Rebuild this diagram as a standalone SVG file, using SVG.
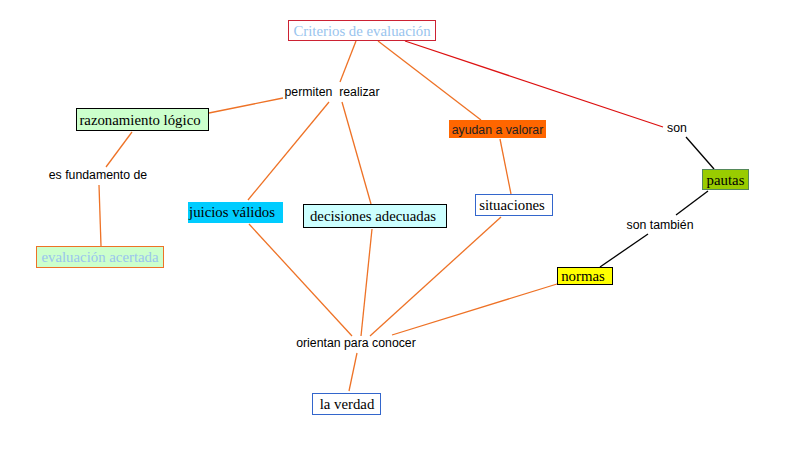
<svg xmlns="http://www.w3.org/2000/svg" width="790" height="455" viewBox="0 0 790 455">
<style>
.s{font-family:"Liberation Serif","Times New Roman",serif;font-size:14.8px;fill:#000}
.a{font-family:"Liberation Sans",Arial,sans-serif;font-size:12.3px;fill:#000}
.o{stroke:#ee7226;stroke-width:1.3;fill:none}
.r{stroke:#dd1111;stroke-width:1.3;fill:none}
.k{stroke:#000;stroke-width:1.3;fill:none}
</style>
<rect width="790" height="455" fill="#fff"/>
<g id="connectors">
<line class="o" x1="356" y1="41" x2="340" y2="82"/>
<line class="o" x1="378" y1="41" x2="481" y2="120"/>
<line class="r" x1="405" y1="41" x2="663" y2="127"/>
<line class="o" x1="283" y1="98" x2="209" y2="113"/>
<line class="o" x1="329" y1="102" x2="248" y2="200"/>
<line class="o" x1="342" y1="102" x2="371" y2="204"/>
<line class="o" x1="132" y1="132" x2="106" y2="167"/>
<line class="o" x1="99" y1="185" x2="101" y2="246"/>
<line class="o" x1="500" y1="139" x2="511" y2="194"/>
<line class="k" x1="686" y1="137" x2="714" y2="169"/>
<line class="k" x1="708" y1="191" x2="676" y2="215"/>
<line class="k" x1="648" y1="234" x2="600" y2="267"/>
<line class="o" x1="249" y1="224" x2="352" y2="336"/>
<line class="o" x1="372" y1="229" x2="361" y2="336"/>
<line class="o" x1="501" y1="217" x2="370" y2="336"/>
<line class="o" x1="557" y1="284" x2="392" y2="335"/>
<line class="o" x1="357" y1="353" x2="349" y2="391"/>
</g>
<g id="criterios">
<rect x="288.5" y="20.5" width="147" height="20" fill="#fff" stroke="#cc2233"/>
<text class="s" x="362" y="35.5" text-anchor="middle" style="fill:#99c4ee">Criterios de evaluación</text>
</g>
<g id="permiten">
<text class="a" x="332" y="96" text-anchor="middle" xml:space="preserve">permiten  realizar</text>
</g>
<g id="razonamiento">
<rect x="76.5" y="108.5" width="132" height="22" fill="#ccffcc" stroke="#000"/>
<text class="s" x="140" y="124.5" text-anchor="middle">razonamiento lógico</text>
</g>
<g id="fundamento">
<text class="a" x="98" y="179" text-anchor="middle">es fundamento de</text>
</g>
<g id="evaluacion">
<rect x="36.5" y="246.5" width="127" height="21" fill="#ccffcc" stroke="#ee7226"/>
<text class="s" x="100" y="262" text-anchor="middle" style="fill:#99c4ee">evaluación acertada</text>
</g>
<g id="juicios">
<rect x="188" y="202" width="95" height="21" fill="#00ccff"/>
<text class="s" x="232" y="217" text-anchor="middle">juicios válidos</text>
</g>
<g id="decisiones">
<rect x="303.5" y="204.5" width="143" height="23" fill="#ccffff" stroke="#000"/>
<text class="s" x="373" y="220.5" text-anchor="middle">decisiones adecuadas</text>
</g>
<g id="ayudan">
<rect x="449" y="120" width="97" height="18" fill="#ff6600"/>
<text class="a" x="497.5" y="133.5" text-anchor="middle" style="fill:#222">ayudan a valorar</text>
</g>
<g id="situaciones">
<rect x="475.5" y="194.5" width="77" height="21" fill="#fff" stroke="#3366cc"/>
<text class="s" x="512" y="210" text-anchor="middle">situaciones</text>
</g>
<g id="son">
<text class="a" x="677" y="132" text-anchor="middle">son</text>
</g>
<g id="pautas">
<rect x="702.5" y="169.5" width="46" height="20" fill="#99cc00" stroke="#55885a"/>
<text class="s" x="725.5" y="184.5" text-anchor="middle">pautas</text>
</g>
<g id="tambien">
<text class="a" x="660" y="229" text-anchor="middle">son también</text>
</g>
<g id="normas">
<rect x="557.5" y="267.5" width="55" height="17" fill="#ffff00" stroke="#000"/>
<text class="s" x="583" y="281" text-anchor="middle">normas</text>
</g>
<g id="orientan">
<text class="a" x="356" y="347" text-anchor="middle">orientan para conocer</text>
</g>
<g id="verdad">
<rect x="312.5" y="393.5" width="68" height="21" fill="#fff" stroke="#3366cc"/>
<text class="s" x="347" y="409" text-anchor="middle">la verdad</text>
</g>
</svg>
